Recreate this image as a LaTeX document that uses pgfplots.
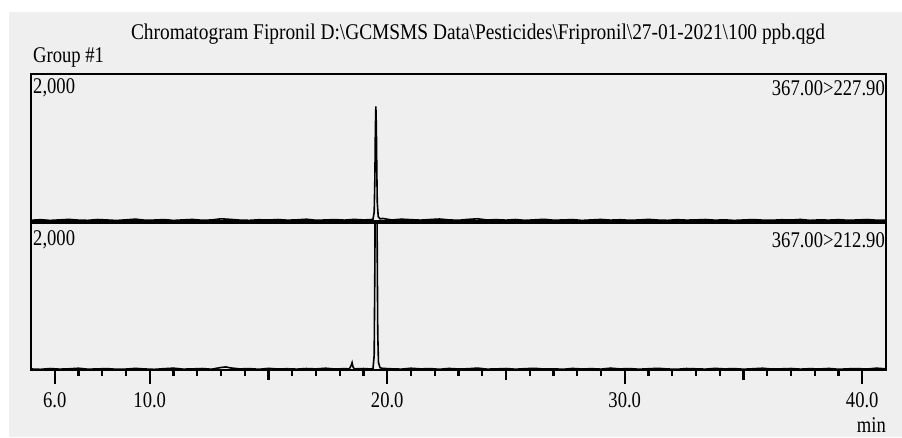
\documentclass[border=0pt]{standalone}
\usepackage{fontspec}
\setmainfont{Liberation Serif}
\usepackage{pgfplots}
\pgfplotsset{compat=1.18}
\definecolor{bg}{HTML}{EFEFEF}
\newcommand{\tall}[1]{\scalebox{0.98}[1.18]{#1}}

\pgfplotstableread{
x y
5.0 10
5.4 18
5.8 8
6.2 15
6.6 22
7.0 12
7.4 9
7.8 20
8.2 14
8.6 7
9.0 16
9.4 25
9.8 11
10.2 13
10.6 19
11.0 8
11.4 15
11.8 21
12.2 10
12.6 14
13.0 30
13.4 22
13.8 12
14.2 9
14.6 17
15.0 13
15.4 20
15.8 11
16.2 16
16.6 24
17.0 10
17.4 14
17.8 19
18.2 12
18.6 22
19.0 15
19.3 18
19.40 25
19.45 120
19.48 600
19.50 1250
19.52 1560
19.54 1300
19.56 700
19.58 250
19.62 60
19.70 28
19.8 35
20.2 14
20.6 25
21.0 18
21.4 12
21.8 20
22.2 27
22.6 15
23.0 10
23.4 22
23.8 30
24.2 14
24.6 18
25.0 12
25.4 20
25.8 9
26.2 16
26.6 23
27.0 11
27.4 14
27.8 19
28.2 8
28.6 15
29.0 21
29.4 12
29.8 17
30.2 10
30.6 14
31.0 22
31.4 13
31.8 9
32.2 18
32.6 12
33.0 15
33.4 20
33.8 11
34.2 16
34.6 8
35.0 14
35.4 19
35.8 12
36.2 10
36.6 17
37.0 13
37.4 21
37.8 9
38.2 15
38.6 12
39.0 18
39.4 10
39.8 14
40.2 20
40.6 11
41.0 13
}\toptrace

\pgfplotstableread{
x y
5.0 14
5.4 9
5.8 20
6.2 12
6.6 16
7.0 24
7.4 11
7.8 15
8.2 19
8.6 10
9.0 13
9.4 22
9.8 14
10.2 9
10.6 18
11.0 25
11.4 12
11.8 15
12.2 20
12.6 11
13.0 34
13.2 42
13.4 28
13.8 15
14.2 19
14.6 10
15.0 22
15.4 14
15.8 17
16.2 12
16.6 20
17.0 15
17.4 24
17.8 13
18.2 18
18.40 15
18.48 60
18.52 100
18.56 40
18.62 15
19.0 20
19.3 14
19.40 20
19.45 200
19.48 1500
19.50 3200
19.53 3600
19.56 3000
19.58 1500
19.60 500
19.63 100
19.70 30
19.8 22
20.2 16
20.6 12
21.0 24
21.4 15
21.8 19
22.2 10
22.6 21
23.0 14
23.4 17
23.8 26
24.2 12
24.6 15
25.0 20
25.4 11
25.8 18
26.2 23
26.6 13
27.0 16
27.4 10
27.8 21
28.2 14
28.6 18
29.0 12
29.4 25
29.8 15
30.2 19
30.6 11
31.0 17
31.4 23
31.8 14
32.2 10
32.6 20
33.0 16
33.4 12
33.8 22
34.2 15
34.6 19
35.0 11
35.4 17
35.8 24
36.2 13
36.6 16
37.0 20
37.4 12
37.8 18
38.2 14
38.6 21
39.0 10
39.4 16
39.8 19
40.2 13
40.6 25
41.0 15
}\bottomtrace

\begin{document}
\begin{tikzpicture}[font=\fontsize{19}{19}\selectfont]
\useasboundingbox (0,0) rectangle (902pt,437pt);
\fill[white] (0,0) rectangle (902pt,437pt);
\fill[bg] (9pt,0) rectangle (902pt,425pt);

\pgfplotsset{
  panel/.style={
    width=855pt, height=147pt, scale only axis,
    xmin=5.0, xmax=41.0, ymin=0, ymax=2000,
    axis line style={line width=2.6pt},
    ytick=\empty,
    clip=true,
  },
}

% upper trace
\begin{axis}[panel, at={(31pt,216pt)}, anchor=south west, xtick=\empty]
\addplot[black, line width=1.6pt] table {\toptrace};
\end{axis}

% lower trace with time axis
\begin{axis}[panel, at={(31pt,67pt)}, anchor=south west,
    xtick={6,10,20,30,40},
    xticklabels={\tall{6.0},\tall{10.0},\tall{20.0},\tall{30.0},\tall{40.0}},
    minor xtick={7,8,9,11,12,13,14,15,16,17,18,19,21,22,23,24,25,26,27,28,29,31,32,33,34,35,36,37,38,39},
    tick align=outside,
    x tick style={line width=2.2pt, black},
    minor x tick style={line width=2.2pt, black},
    major tick length=14pt, minor tick length=6pt,
    xtick pos=bottom,
    xticklabel style={yshift=-5pt},
]
\addplot[black, line width=1.6pt] table {\bottomtrace};
\end{axis}

% medium ticks at 15, 25, 35
\begin{axis}[panel, at={(31pt,67pt)}, anchor=south west,
    hide y axis, axis x line*=bottom, axis line style={draw=none},
    xtick={15,25,35}, xticklabels={},
    tick align=outside, major tick length=10pt,
    x tick style={line width=2.2pt, black},
]
\end{axis}

\node at (478pt,403pt) {\scalebox{1.02}[1.18]{Chromatogram Fipronil D:\textbackslash GCMSMS Data\textbackslash Pesticides\textbackslash Fripronil\textbackslash 27-01-2021\textbackslash 100 ppb.qgd}};
\node[anchor=west, inner sep=0pt] at (33pt,380pt) {\tall{Group \#1}};
\node[anchor=west, inner sep=0pt] at (33pt,349pt) {\tall{2,000}};
\node[anchor=east, inner sep=0pt] at (885pt,349pt) {\tall{367.00>227.90}};
\node[anchor=west, inner sep=0pt] at (33pt,197pt) {\tall{2,000}};
\node[anchor=east, inner sep=0pt] at (885pt,197pt) {\tall{367.00>212.90}};
\node[anchor=east, inner sep=0pt] at (886pt,12pt) {\tall{min}};
\end{tikzpicture}
\end{document}
